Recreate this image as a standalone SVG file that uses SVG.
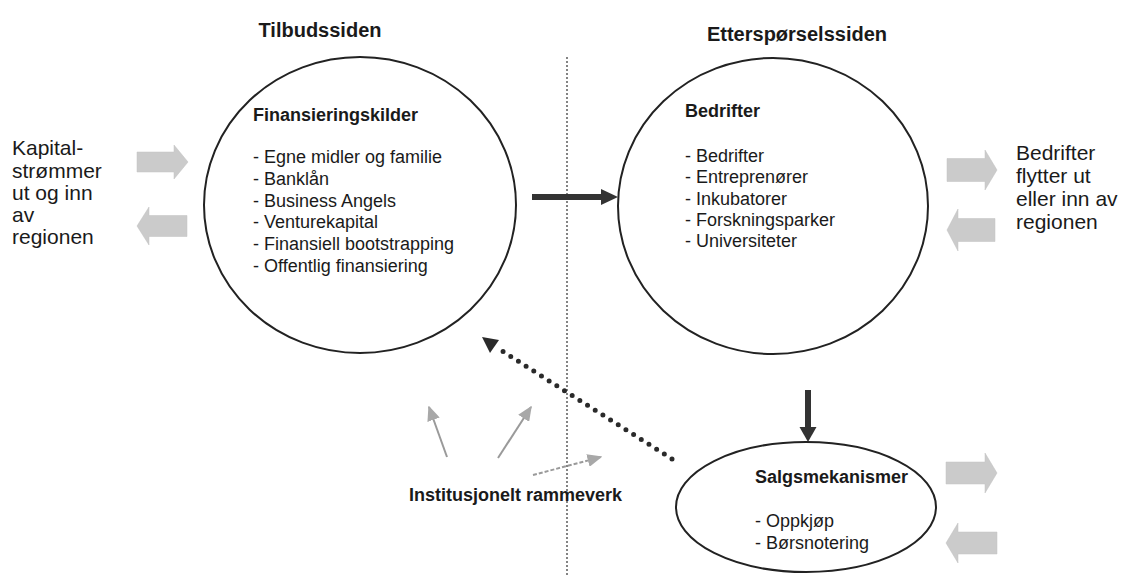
<svg xmlns="http://www.w3.org/2000/svg" width="1122" height="575" viewBox="0 0 1122 575">
<defs>
<style>
text{font-family:"Liberation Sans",Arial,sans-serif;fill:#1a1a1a}
.h{font-size:20px;font-weight:bold}
.t{font-size:18px;font-weight:bold}
.i{font-size:18px}
.s{font-size:21px}
.node{fill:#fff;stroke:#222;stroke-width:2}
.blk{fill:#cbcbcb;stroke:#c0c0c0;stroke-width:0.5}
.thin{stroke:#9a9a9a;stroke-width:2;fill:none}
</style>
<marker id="ga" viewBox="0 0 10 10" refX="9" refY="5" markerWidth="15" markerHeight="13" orient="auto" markerUnits="userSpaceOnUse" preserveAspectRatio="none">
<path d="M0,0 L10,5 L0,10 z" fill="#a8a8a8"/>
</marker>
</defs>
<rect width="1122" height="575" fill="#fff"/>
<text class="h" x="320" y="37" text-anchor="middle">Tilbudssiden</text>
<text class="h" x="797" y="41" text-anchor="middle">Etterspørselssiden</text>
<line x1="567" y1="57" x2="567" y2="575" stroke="#333" stroke-width="1.2" stroke-dasharray="2 2"/>
<g id="kapital-text">
<text class="s" x="12" y="155">Kapital-</text>
<text class="s" x="12" y="178">strømmer</text>
<text class="s" x="12" y="200">ut og inn</text>
<text class="s" x="12" y="222">av</text>
<text class="s" x="12" y="244">regionen</text>
</g>
<g id="bedrifter-text">
<text class="s" x="1016" y="160">Bedrifter</text>
<text class="s" x="1016" y="183">flytter ut</text>
<text class="s" x="1016" y="206">eller inn av</text>
<text class="s" x="1016" y="229">regionen</text>
</g>
<g id="block-arrows">
<polygon class="blk" points="137,152 174,152 174,145 188,162 174,179 174,172 137,172"/>
<polygon class="blk" points="187,215.5 149,215.5 149,207 137,226 149,245 149,236.5 187,236.5"/>
<polygon class="blk" points="947,158.5 985,158.5 985,150 997,170 985,190 985,181.5 947,181.5"/>
<polygon class="blk" points="995,218.5 958,218.5 958,209 947,230 958,251 958,241.5 995,241.5"/>
<polygon class="blk" points="946,462 985,462 985,453 997,473 985,493 985,484 946,484"/>
<polygon class="blk" points="997,532 958,532 958,523 946,543 958,563 958,554 997,554"/>
</g>
<g id="finansieringskilder">
<ellipse class="node" cx="360" cy="205" rx="156" ry="148"/>
<text class="t" x="253" y="121">Finansieringskilder</text>
<text class="i" x="253" y="163">- Egne midler og familie</text>
<text class="i" x="253" y="185">- Banklån</text>
<text class="i" x="253" y="207">- Business Angels</text>
<text class="i" x="253" y="228">- Venturekapital</text>
<text class="i" x="253" y="250">- Finansiell bootstrapping</text>
<text class="i" x="253" y="272">- Offentlig finansiering</text>
</g>
<g id="bedrifter">
<ellipse class="node" cx="773" cy="206" rx="155" ry="148"/>
<text class="t" x="685" y="117">Bedrifter</text>
<text class="i" x="685" y="162">- Bedrifter</text>
<text class="i" x="685" y="183">- Entreprenører</text>
<text class="i" x="685" y="205">- Inkubatorer</text>
<text class="i" x="685" y="226">- Forskningsparker</text>
<text class="i" x="685" y="247">- Universiteter</text>
</g>
<g id="salgsmekanismer">
<ellipse class="node" cx="806" cy="507" rx="130" ry="65"/>
<text class="t" x="755" y="483">Salgsmekanismer</text>
<text class="i" x="755" y="527">- Oppkjøp</text>
<text class="i" x="755" y="549">- Børsnotering</text>
</g>
<g id="institusjonelt">
<text class="t" x="409" y="501">Institusjonelt rammeverk</text>
</g>
<g id="connectors">
<rect x="532" y="194" width="70" height="6" fill="#333"/>
<polygon points="601,189 618,197 601,205" fill="#333"/>
<rect x="805" y="390" width="6" height="38" fill="#333"/>
<polygon points="799.5,427 816.5,427 808,442" fill="#333"/>
<line x1="672" y1="459" x2="499" y2="349" stroke="#2a2a2a" stroke-width="5" stroke-linecap="round" stroke-dasharray="0 9.1"/>
<polygon points="482,337 499,340 490,353" fill="#2a2a2a"/>
<line class="thin" x1="447" y1="457" x2="429" y2="407" marker-end="url(#ga)"/>
<line class="thin" x1="498" y1="458" x2="531" y2="407" marker-end="url(#ga)"/>
<line class="thin" x1="533" y1="475" x2="601" y2="457" stroke-dasharray="4 2" marker-end="url(#ga)"/>
</g>
</svg>
